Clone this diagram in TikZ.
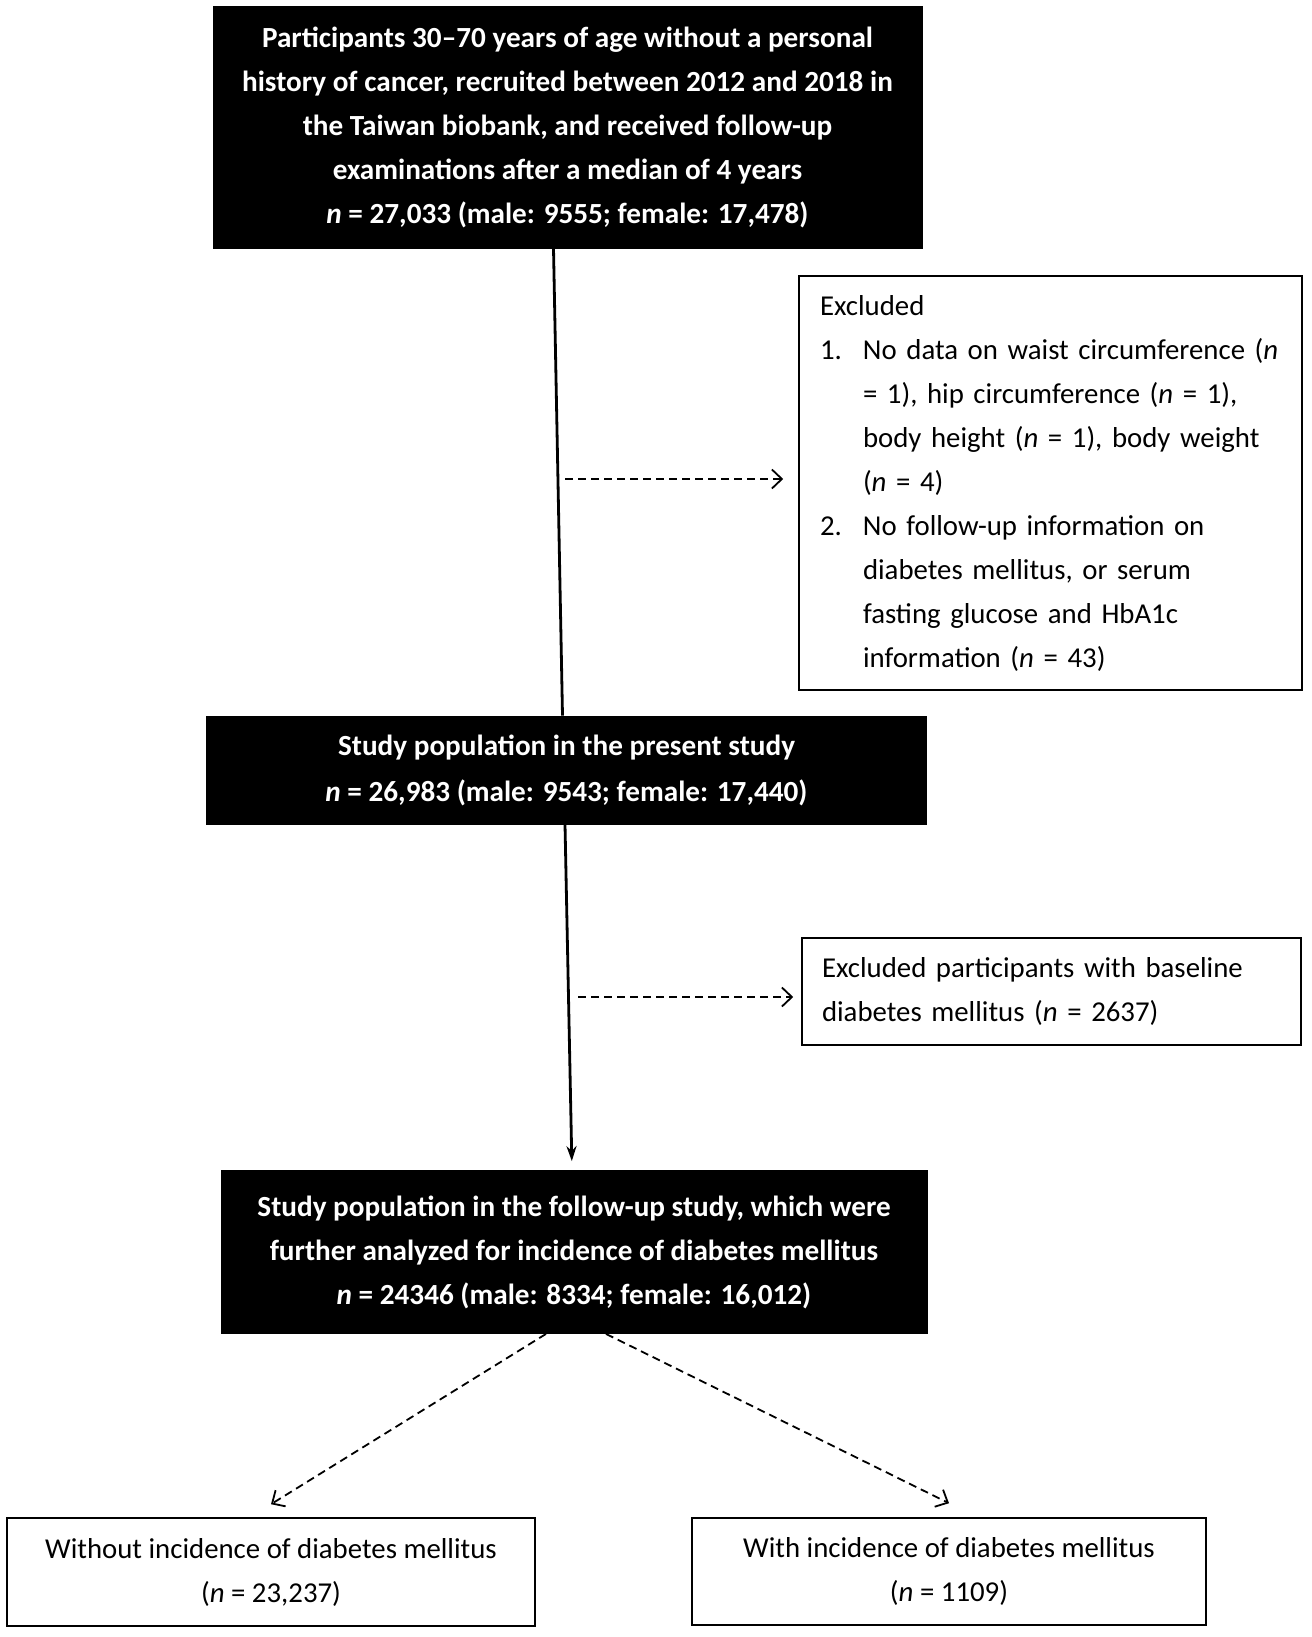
\documentclass[tikz,border=0pt]{standalone}
\usepackage{fontspec}
\setmainfont{Carlito}
\usetikzlibrary{arrows.meta}

\newcommand{\nn}{\textit{n}}
\newcommand{\itemno}[1]{\makebox[21.5pt][l]{#1}}
\newcommand{\itemgap}{\hspace*{21.5pt}}

\tikzstyle{blackbox}=[draw=black,fill=black,text=white,align=center,inner sep=0pt,
  font=\fontsize{14.6pt}{22pt}\selectfont\bfseries]
\tikzstyle{whitebox}=[draw=black,line width=0.8pt,fill=white,inner sep=0pt,
  font=\fontsize{14.4pt}{22pt}\selectfont]
\tikzstyle{flow}=[line width=1.4pt]
\tikzstyle{dasharrow}=[line width=0.9pt,dash pattern=on 4pt off 2.5pt,
  -{Straight Barb[length=5pt,width=9.5pt,line width=0.9pt]}]

\begin{document}
\begin{tikzpicture}[x=0.5pt,y=-0.5pt]

   \useasboundingbox (0,0) rectangle (1311,1637);

   % Main stack
   \node[blackbox,minimum width=354.5pt,minimum height=121pt] (cohort) at (567.5,127)
     {Participants 30--70 years of age without a personal\\
      history of cancer, recruited between 2012 and 2018 in\\
      the Taiwan biobank, and received follow-up\\
      examinations after a median of 4 years\\
      \nn{} = 27,033 (male: 9555; female: 17,478)};

   \node[blackbox,minimum width=360pt,minimum height=54pt,
     font=\fontsize{14.6pt}{23pt}\selectfont\bfseries] (present) at (566.5,770)
     {Study population in the present study\\
      \nn{} = 26,983 (male: 9543; female: 17,440)};

   \node[blackbox,minimum width=353pt,minimum height=81.5pt] (followup) at (574,1252)
     {Study population in the follow-up study, which were\\
      further analyzed for incidence of diabetes mellitus\\
      \nn{} = 24346 (male: 8334; female: 16,012)};

% Exclusions
   \node[whitebox,align=left,text width=230.5pt,inner xsep=10.5pt,
     minimum height=207pt] (excl1) at (1050.5,483)
     {Excluded\\
      \itemno{1.}No data on waist circumference (\nn\\
      \itemgap= 1), hip circumference (\nn{} = 1),\\
      \itemgap body height (\nn{} = 1), body weight\\
      \itemgap(\nn{} = 4)\\
      \itemno{2.}No follow-up information on\\
      \itemgap diabetes mellitus, or serum\\
      \itemgap fasting glucose and HbA1c\\
      \itemgap information (\nn{} = 43)};

   \node[whitebox,align=left,text width=229.5pt,inner xsep=10pt,
     minimum height=53.5pt] (excl2) at (1051.5,991.5)
     {Excluded participants with baseline\\
      diabetes mellitus (\nn{} = 2637)};

% Outcome groups
   \node[whitebox,align=center,minimum width=264pt,minimum height=54pt] (without) at (271,1572)
     {Without incidence of diabetes mellitus\\ (\nn{} = 23,237)};
   \node[whitebox,align=center,minimum width=257pt,minimum height=53.5pt] (with) at (949,1571.5)
     {With incidence of diabetes mellitus\\ (\nn{} = 1109)};

   \coordinate (split1) at (565,479);
   \coordinate (split2) at (578,997);

   \draw[flow] ([xshift=-7pt]cohort.south) -- ([xshift=-2pt]present.north);
   \draw[flow,-{Stealth[length=7.5pt,width=5pt]},shorten >=4.5pt]
     ([xshift=-0.75pt]present.south) -- ([xshift=-1pt]followup.north);

   \draw[dasharrow,shorten >=7.5pt] (split1) -- (split1 -| excl1.west);
   \draw[dasharrow,shorten >=4pt] (split2) -- (split2 -| excl2.west);

   \draw[dasharrow] ([xshift=-14pt]followup.south) -- ([yshift=6.5pt]without.north);
   \draw[dasharrow] ([xshift=16pt]followup.south) -- ([yshift=7pt]with.north);

\end{tikzpicture}
\end{document}
